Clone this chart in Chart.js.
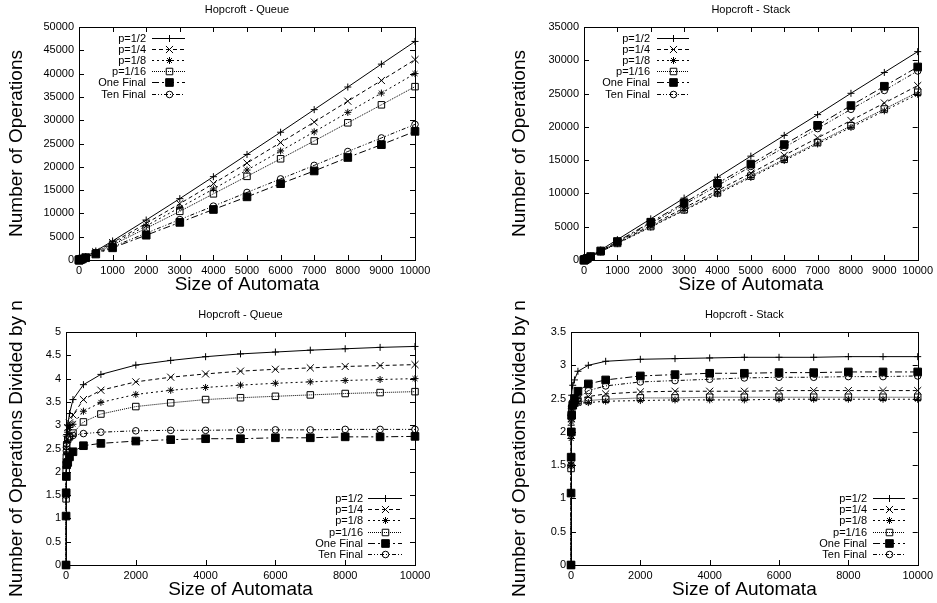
<!DOCTYPE html>
<html>
<head>
<meta charset="utf-8">
<title>Hopcroft - Queue / Stack</title>
<script src="https://cdn.jsdelivr.net/npm/chart.js@4.4.1/dist/chart.umd.min.js"></script>
<style>
  body { margin: 0; background: #fff; }
  #wrap { position: relative; width: 937px; height: 603px; overflow: hidden; background: #fff; }
  canvas { position: absolute; }
</style>
</head>
<body>
<div id="wrap">
  <canvas id="queueOps" width="467" height="300" style="left:0;top:0"></canvas>
  <canvas id="stackOps" width="470" height="300" style="left:467px;top:0"></canvas>
  <canvas id="queueRatio" width="467" height="303" style="left:0;top:300px"></canvas>
  <canvas id="stackRatio" width="470" height="303" style="left:467px;top:300px"></canvas>
</div>
<script>
// automaton sizes (x values, same for every panel)
const sizes = [1, 2, 5, 10, 20, 50, 100, 200, 500, 1000, 2000, 3000, 4000, 5000, 6000, 7000, 8000, 9000, 10000];
const seriesNames = ['p=1/2', 'p=1/4', 'p=1/8', 'p=1/16', 'One Final', 'Ten Final'];

// Hopcroft - Queue, number of operations
const queueHalf      = [0, 3, 11, 25, 55, 150, 325, 710, 1935, 4090, 8580, 13170, 17880, 22650, 27420, 32270, 37120, 42030, 46900];
const queueQuarter   = [0, 3, 11, 25, 54, 148, 305, 644, 1775, 3750, 7860, 12090, 16400, 20800, 25200, 29610, 34080, 38520, 43000];
const queueEighth    = [0, 3, 11, 24, 53, 143, 295, 604, 1650, 3490, 7320, 11250, 15240, 19300, 23400, 27510, 31680, 35820, 40000];
const queueSixteenth = [0, 3, 10, 23, 51, 135, 275, 566, 1535, 3240, 6800, 10440, 14200, 17950, 21720, 25550, 29440, 33300, 37200];
const queueOneFinal  = [0, 2, 8, 19, 43, 110, 232, 486, 1280, 2610, 5320, 8070, 10840, 13550, 16380, 19110, 22000, 24750, 27600];
const queueTenFinal  = [0, 3, 11, 25, 52, 135, 275, 556, 1410, 2850, 5760, 8670, 11560, 14500, 17400, 20300, 23280, 26190, 29100];

// Hopcroft - Stack, number of operations
const stackHalf      = [0, 3, 11, 24, 51, 135, 278, 582, 1500, 3060, 6180, 9300, 12440, 15600, 18720, 21840, 25040, 28170, 31300];
const stackQuarter   = [0, 3, 10, 22, 47, 121, 245, 500, 1265, 2570, 5200, 7830, 10440, 13050, 15720, 18340, 20960, 23580, 26200];
const stackEighth    = [0, 3, 10, 22, 46, 119, 241, 486, 1220, 2460, 4940, 7440, 9920, 12400, 14940, 17430, 19920, 22410, 24900];
const stackSixteenth = [0, 3, 10, 22, 47, 120, 243, 490, 1235, 2490, 5020, 7530, 10080, 12600, 15120, 17640, 20160, 22680, 25200];
const stackOneFinal  = [0, 2, 8, 20, 45, 120, 250, 522, 1360, 2780, 5680, 8580, 11520, 14400, 17340, 20230, 23200, 26100, 29000];
const stackTenFinal  = [0, 3, 10, 23, 48, 123, 248, 500, 1310, 2690, 5500, 8310, 11160, 14050, 16920, 19740, 22640, 25470, 28400];

// Hopcroft - Queue, operations divided by n
const queueHalfN      = [0, 1.5, 2.25, 2.55, 2.8, 3.0, 3.25, 3.55, 3.87, 4.09, 4.29, 4.39, 4.47, 4.53, 4.57, 4.61, 4.64, 4.67, 4.69];
const queueQuarterN   = [0, 1.5, 2.2, 2.45, 2.7, 2.95, 3.05, 3.22, 3.55, 3.75, 3.93, 4.03, 4.10, 4.16, 4.20, 4.23, 4.26, 4.28, 4.30];
const queueEighthN    = [0, 1.5, 2.15, 2.4, 2.65, 2.85, 2.95, 3.02, 3.3, 3.49, 3.66, 3.75, 3.81, 3.86, 3.90, 3.93, 3.96, 3.98, 4.00];
const queueSixteenthN = [0, 1.42, 2.05, 2.3, 2.55, 2.7, 2.75, 2.83, 3.07, 3.24, 3.40, 3.48, 3.55, 3.59, 3.62, 3.65, 3.68, 3.70, 3.72];
const queueOneFinalN  = [0, 1.05, 1.55, 1.9, 2.15, 2.2, 2.32, 2.43, 2.56, 2.61, 2.66, 2.69, 2.71, 2.71, 2.73, 2.73, 2.75, 2.75, 2.76];
const queueTenFinalN  = [0, 1.5, 2.2, 2.45, 2.6, 2.7, 2.75, 2.78, 2.82, 2.85, 2.88, 2.89, 2.89, 2.90, 2.90, 2.90, 2.91, 2.91, 2.91];

// Hopcroft - Stack, operations divided by n
const stackHalfN      = [0, 1.5, 2.1, 2.35, 2.55, 2.7, 2.78, 2.91, 3.00, 3.06, 3.09, 3.10, 3.11, 3.12, 3.12, 3.12, 3.13, 3.13, 3.13];
const stackQuarterN   = [0, 1.5, 1.95, 2.2, 2.35, 2.42, 2.45, 2.5, 2.53, 2.57, 2.60, 2.61, 2.61, 2.61, 2.62, 2.62, 2.62, 2.62, 2.62];
const stackEighthN    = [0, 1.5, 1.9, 2.15, 2.3, 2.38, 2.41, 2.43, 2.44, 2.46, 2.47, 2.48, 2.48, 2.48, 2.49, 2.49, 2.49, 2.49, 2.49];
const stackSixteenthN = [0, 1.45, 2.0, 2.23, 2.35, 2.4, 2.43, 2.45, 2.47, 2.49, 2.51, 2.51, 2.52, 2.52, 2.52, 2.52, 2.52, 2.52, 2.52];
const stackOneFinalN  = [0, 1.08, 1.62, 2.0, 2.25, 2.4, 2.5, 2.61, 2.72, 2.78, 2.84, 2.86, 2.88, 2.88, 2.89, 2.89, 2.90, 2.90, 2.90];
const stackTenFinalN  = [0, 1.5, 2.0, 2.25, 2.38, 2.45, 2.48, 2.5, 2.62, 2.69, 2.75, 2.77, 2.79, 2.81, 2.82, 2.82, 2.83, 2.83, 2.84];

// gnuplot-like line / point styles
const styles = [
  { dash: [],                 point: 'cross',    r: 3.5, fill: 'rgba(0,0,0,0)' },
  { dash: [4, 3],             point: 'crossRot', r: 5,   fill: 'rgba(0,0,0,0)' },
  { dash: [2, 3],             point: 'star',     r: 3.5, fill: 'rgba(0,0,0,0)' },
  { dash: [1, 1],             point: 'rect',     r: 4.6, fill: 'rgba(0,0,0,0)' },
  { dash: [7, 3, 2, 3],       point: 'rect',     r: 5.4, fill: '#000' },
  { dash: [4, 2, 1, 2, 1, 2], point: 'circle',   r: 3.3, fill: 'rgba(0,0,0,0)' }
];

const FONT = '"Liberation Sans", Arial, Helvetica, sans-serif';
Chart.defaults.font.family = FONT;
Chart.defaults.color = '#000';

// border box with inward ticks on all four sides
const frameTicks = {
  id: 'frameTicks',
  beforeDatasetsDraw(chart) {
    const { ctx, chartArea: a } = chart;
    const xs = chart.scales.x, ys = chart.scales.y;
    const len = 5;
    ctx.save();
    ctx.strokeStyle = '#000';
    ctx.lineWidth = 1;
    ctx.beginPath();
    xs.ticks.forEach(t => {
      const px = Math.round(xs.getPixelForValue(t.value)) + 0.5;
      ctx.moveTo(px, a.bottom); ctx.lineTo(px, a.bottom - len);
      ctx.moveTo(px, a.top); ctx.lineTo(px, a.top + len);
    });
    ys.ticks.forEach(t => {
      const py = Math.round(ys.getPixelForValue(t.value)) + 0.5;
      ctx.moveTo(a.left, py); ctx.lineTo(a.left + len, py);
      ctx.moveTo(a.right, py); ctx.lineTo(a.right - len, py);
    });
    ctx.stroke();
    ctx.strokeRect(Math.round(a.left) + 0.5, Math.round(a.top) + 0.5,
                   Math.round(a.right - a.left), Math.round(a.bottom - a.top));
    ctx.restore();
  }
};

// rotated y title that may run past the canvas (gnuplot does not shrink it)
const sideTitle = {
  id: 'sideTitle',
  afterDraw(chart, args, o) {
    if (!o.text) return;
    const { ctx, chartArea: a } = chart;
    ctx.save();
    ctx.font = o.size + 'px ' + FONT;
    ctx.fillStyle = '#000';
    ctx.translate(o.x, (a.top + a.bottom) / 2);
    ctx.rotate(-Math.PI / 2);
    ctx.textAlign = 'center';
    ctx.textBaseline = 'middle';
    ctx.fillText(o.text, 0, 0);
    ctx.restore();
  }
};

// key: right aligned text, then line sample with marker
const keyBox = {
  id: 'keyBox',
  afterDatasetsDraw(chart, args, o) {
    if (o.y === undefined) return;
    const { ctx } = chart;
    ctx.save();
    ctx.font = '11px ' + FONT;
    ctx.textAlign = 'right';
    ctx.textBaseline = 'middle';
    chart.data.datasets.forEach((ds, i) => {
      const yy = Math.round(o.y + i * o.dy) + 0.5;
      ctx.fillStyle = '#000';
      ctx.fillText(ds.label, o.textRight, yy + 0.5);
      ctx.strokeStyle = '#000';
      ctx.lineWidth = 1;
      ctx.setLineDash(ds.borderDash);
      ctx.beginPath();
      ctx.moveTo(o.x0, yy);
      ctx.lineTo(o.x1, yy);
      ctx.stroke();
      ctx.setLineDash([]);
      if (Chart.helpers && Chart.helpers.drawPoint) {
        ctx.fillStyle = ds.pointBackgroundColor;
        Chart.helpers.drawPoint(ctx, { pointStyle: ds.pointStyle, radius: ds.pointRadius, borderWidth: 1, rotation: 0 },
                                Math.round((o.x0 + o.x1) / 2) + 0.5, yy);
      }
    });
    ctx.restore();
  }
};

Chart.register(frameTicks, sideTitle, keyBox);

function drawPanel(id, cfg) {
  const canvas = document.getElementById(id);
  const W = canvas.width, H = canvas.height;
  const [left, top, right, bottom] = cfg.box;
  const datasets = seriesNames.map((name, i) => ({
    label: name,
    data: sizes.map((x, k) => ({ x: x, y: cfg.series[i][k] })),
    borderColor: '#000',
    borderWidth: 1,
    borderDash: styles[i].dash,
    pointStyle: styles[i].point,
    pointRadius: styles[i].r,
    pointBorderWidth: 1,
    pointBorderColor: '#000',
    pointBackgroundColor: styles[i].fill,
    tension: 0,
    fill: false,
    clip: false
  }));

  new Chart(canvas, {
    type: 'line',
    data: { datasets: datasets },
    options: {
      responsive: false,
      animation: false,
      events: [],
      layout: { padding: { left: 0, right: W - right, top: 0, bottom: 0 } },
      plugins: {
        legend: { display: false },
        tooltip: { enabled: false },
        title: {
          display: true, text: cfg.title, fullSize: false, color: '#000',
          font: { size: 11, weight: 'normal' },
          padding: { top: cfg.titleY - 6.6, bottom: top - (cfg.titleY - 6.6) - 13.2 }
        },
        sideTitle: { text: cfg.yTitle, x: cfg.yTitleX, size: 19 },
        keyBox: cfg.key
      },
      scales: {
        x: {
          type: 'linear', min: 0, max: 10000,
          grid: { display: false, drawTicks: false },
          border: { display: false },
          ticks: { stepSize: cfg.xStep, padding: 4, maxRotation: 0, autoSkip: false,
                   color: '#000', font: { size: 11 }, callback: v => String(v) },
          title: { display: true, text: 'Size of Automata', color: '#000',
                   font: { size: 19 }, padding: { top: 0, bottom: cfg.xTitlePad } },
          afterFit: s => { s.height = H - bottom; }
        },
        y: {
          type: 'linear', min: 0, max: cfg.yMax,
          grid: { display: false, drawTicks: false },
          border: { display: false },
          ticks: { stepSize: cfg.yStep, padding: 5, autoSkip: false,
                   color: '#000', font: { size: 11 }, callback: v => String(v) },
          afterFit: s => { s.width = left; }
        }
      }
    }
  });
}

drawPanel('queueOps', {
  title: 'Hopcroft - Queue', titleY: 10, box: [79, 27, 415, 260],
  series: [queueHalf, queueQuarter, queueEighth, queueSixteenth, queueOneFinal, queueTenFinal],
  yMax: 50000, yStep: 5000, xStep: 1000, xTitlePad: 3.6,
  yTitle: 'Number of Operations', yTitleX: 17,
  key: { textRight: 146, x0: 152, x1: 185, y: 37.5, dy: 11.2 }
});

drawPanel('stackOps', {
  title: 'Hopcroft - Stack', titleY: 10, box: [117, 27, 452, 260],
  series: [stackHalf, stackQuarter, stackEighth, stackSixteenth, stackOneFinal, stackTenFinal],
  yMax: 35000, yStep: 5000, xStep: 1000, xTitlePad: 3.6,
  yTitle: 'Number of Operations', yTitleX: 53,
  key: { textRight: 183, x0: 190, x1: 222, y: 37.5, dy: 11.2 }
});

drawPanel('queueRatio', {
  title: 'Hopcroft - Queue', titleY: 15, box: [66, 32, 415, 265],
  series: [queueHalfN, queueQuarterN, queueEighthN, queueSixteenthN, queueOneFinalN, queueTenFinalN],
  yMax: 5, yStep: 0.5, xStep: 2000, xTitlePad: 1.6,
  yTitle: 'Number of Operations Divided by n', yTitleX: 17,
  key: { textRight: 363, x0: 368, x1: 402, y: 198, dy: 11.2 }
});

drawPanel('stackRatio', {
  title: 'Hopcroft - Stack', titleY: 15, box: [104, 32, 452, 265],
  series: [stackHalfN, stackQuarterN, stackEighthN, stackSixteenthN, stackOneFinalN, stackTenFinalN],
  yMax: 3.5, yStep: 0.5, xStep: 2000, xTitlePad: 1.6,
  yTitle: 'Number of Operations Divided by n', yTitleX: 53,
  key: { textRight: 400, x0: 406, x1: 438, y: 198, dy: 11.2 }
});
</script>
</body>
</html>
